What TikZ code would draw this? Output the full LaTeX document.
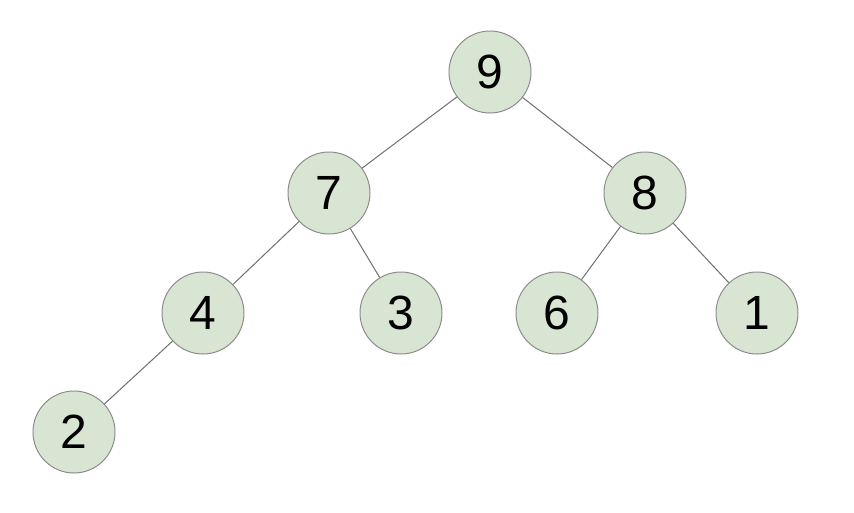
\documentclass[tikz,border=0pt]{standalone}
\usepackage{fontspec}
\setmainfont{Liberation Sans}
\definecolor{nodefill}{HTML}{D9E5D3}
\definecolor{nodeline}{HTML}{8C8C8C}
\definecolor{edgeline}{HTML}{6E6E6E}
\begin{document}
\begin{tikzpicture}[x=1pt,y=-1pt,
  treenode/.style={circle,draw=nodeline,fill=nodefill,line width=1pt,minimum size=82pt,inner sep=0pt,font=\fontsize{48}{48}\selectfont},
  edge/.style={draw=edgeline,line width=1pt}]
\useasboundingbox (0,0) rectangle (854,512);
\node[treenode] (n9) at (490,72) {9};
\node[treenode] (n7) at (329,193) {7};
\node[treenode] (n8) at (645,193) {8};
\node[treenode] (n4) at (203,313) {4};
\node[treenode] (n3) at (401,313) {3};
\node[treenode] (n6) at (557,313) {6};
\node[treenode] (n1) at (757,313) {1};
\node[treenode] (n2) at (74,432) {2};
\path[edge] (n9) -- (n7);
\path[edge] (n9) -- (n8);
\path[edge] (n7) -- (n4);
\path[edge] (n7) -- (n3);
\path[edge] (n8) -- (n6);
\path[edge] (n8) -- (n1);
\path[edge] (n4) -- (n2);
\end{tikzpicture}
\end{document}
